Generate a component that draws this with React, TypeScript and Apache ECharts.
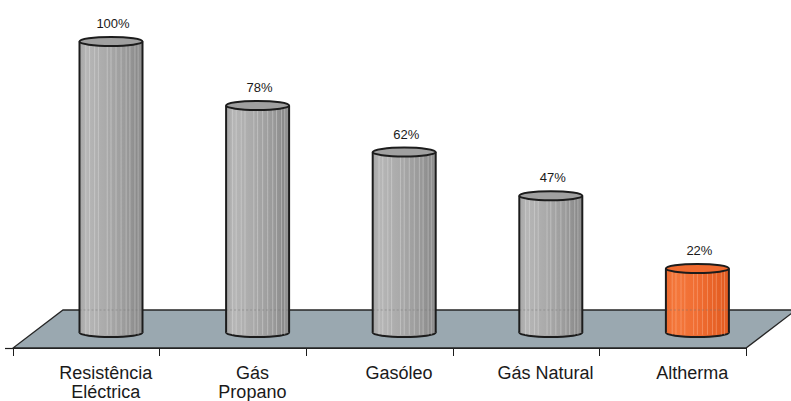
import React, { useEffect, useRef } from 'react';
import * as echarts from 'echarts';

// ---- data ----
const categories = ['Resistência\nEléctrica', 'Gás\nPropano', 'Gasóleo', 'Gás Natural', 'Altherma'];
const values = [100, 78, 62, 47, 22];
const highlightIndex = 4; // Altherma

// ---- styling constants ----
const DEPTH_X = 50;
const DEPTH_Y = 38;
const CYL_DX = 24.7;
const CYL_DY = -15.5;
const RX = 31.5;
const RY = 4.5;
const STROKE = '#1c1c1c';
const STRIPES = [0.1, 0.16, 0.24, 0.3, 0.44, 0.5, 0.58, 0.66, 0.74, 0.8, 0.88, 0.93];

const grayBody = () =>
  new echarts.graphic.LinearGradient(0, 0, 1, 0, [
    { offset: 0, color: '#a6a6a6' },
    { offset: 0.12, color: '#b6b6b6' },
    { offset: 0.45, color: '#a9a9a9' },
    { offset: 0.75, color: '#9a9a9a' },
    { offset: 0.92, color: '#8b8b8b' },
    { offset: 1, color: '#979797' },
  ]);
const orangeBody = () =>
  new echarts.graphic.LinearGradient(0, 0, 1, 0, [
    { offset: 0, color: '#ee6a2e' },
    { offset: 0.15, color: '#f4783c' },
    { offset: 0.5, color: '#f06d32' },
    { offset: 0.85, color: '#e55f24' },
    { offset: 1, color: '#e25c22' },
  ]);

export default function App() {
  const ref = useRef<HTMLDivElement>(null);

  useEffect(() => {
    document.body.style.margin = '0';
    const chart = echarts.init(ref.current!, undefined, { renderer: 'svg' });

    const option: any = {
      animation: false,
      backgroundColor: '#ffffff',
      grid: { left: 13, right: 45, top: 57, bottom: 52, containLabel: false },
      xAxis: {
        type: 'category',
        data: categories,
        boundaryGap: true,
        axisLine: { show: true, lineStyle: { color: STROKE, width: 1.2 } },
        axisTick: { show: true, length: 8, lineStyle: { color: STROKE, width: 1 } },
        axisLabel: {
          margin: 15,
          color: '#1a1a1a',
          fontSize: 18,
          lineHeight: 19,
          fontFamily: 'Liberation Sans, Arial, sans-serif',
          padding: [0, 0, 0, 39],
          interval: 0,
        },
        splitLine: { show: false },
      },
      yAxis: {
        type: 'value',
        min: 0,
        max: 100,
        show: true,
        axisLine: { show: false },
        axisLabel: { show: false },
        splitLine: { show: false },
        axisTick: { show: true, customValues: [0], length: 8, lineStyle: { color: STROKE, width: 1.2 } },
      },
      series: [
        {
          type: 'custom',
          z: 1,
          silent: true,
          data: [[0, 0]],
          encode: { x: 0, y: 1 },
          renderItem: (params: any) => {
            const cs = params.coordSys;
            const x0 = cs.x;
            const x1 = cs.x + cs.width;
            const y0 = cs.y + cs.height;
            return {
              type: 'polygon',
              shape: {
                points: [
                  [x0, y0],
                  [x1, y0],
                  [x1 + DEPTH_X, y0 - DEPTH_Y],
                  [x0 + DEPTH_X, y0 - DEPTH_Y],
                ],
              },
              style: { fill: '#9aa8b0', stroke: '#262626', lineWidth: 1.3 },
            };
          },
        },
        {
          type: 'custom',
          z: 5,
          silent: true,
          data: values.map((v, i) => [i, v]),
          encode: { x: 0, y: 1 },
          renderItem: (params: any, api: any) => {
            const i = api.value(0);
            const v = api.value(1);
            const base = api.coord([i, 0]);
            const top = api.coord([i, v]);
            const cs = params.coordSys;
            const floorBackY = cs.y + cs.height - DEPTH_Y;
            const cx = base[0] + CYL_DX;
            const yb = base[1] + CYL_DY;
            const yt = top[1] + CYL_DY;
            const orange = i === highlightIndex;
            const body = orange ? orangeBody() : grayBody();
            const topFill = orange ? '#ef6a2f' : '#a0a0a0';
            const stripeColor = orange ? 'rgba(255,200,170,0.45)' : 'rgba(235,235,235,0.45)';
            const stripes = STRIPES.map((f) => ({
              type: 'line',
              shape: { x1: cx - RX + f * 2 * RX, y1: yt, x2: cx - RX + f * 2 * RX, y2: yb + RY * 0.5 },
              style: { stroke: stripeColor, lineWidth: 0.8 },
            }));
            const children: any[] = [
              {
                type: 'ellipse',
                shape: { cx, cy: yb, rx: RX, ry: RY },
                style: { fill: body, stroke: STROKE, lineWidth: 2 },
              },
              {
                type: 'rect',
                shape: { x: cx - RX, y: yt, width: 2 * RX, height: yb - yt },
                style: { fill: body },
              },
              ...stripes,
            ];
            if (floorBackY > yt && floorBackY < yb) {
              children.push({
                type: 'line',
                shape: { x1: cx - RX, y1: floorBackY, x2: cx + RX, y2: floorBackY },
                style: { stroke: 'rgba(120,120,120,0.5)', lineWidth: 1, lineDash: [2, 2] },
              });
            }
            children.push(
              {
                type: 'line',
                shape: { x1: cx - RX, y1: yt, x2: cx - RX, y2: yb },
                style: { stroke: STROKE, lineWidth: 2 },
              },
              {
                type: 'line',
                shape: { x1: cx + RX, y1: yt, x2: cx + RX, y2: yb },
                style: { stroke: STROKE, lineWidth: 2 },
              },
              {
                type: 'ellipse',
                shape: { cx, cy: yt, rx: RX, ry: RY },
                style: { fill: topFill, stroke: STROKE, lineWidth: 2 },
              },
              {
                type: 'text',
                style: {
                  text: v + '%',
                  x: cx + 2,
                  y: yt - 18,
                  align: 'center',
                  verticalAlign: 'middle',
                  fontSize: 13,
                  fontFamily: 'Liberation Sans, Arial, sans-serif',
                  fill: '#1a1a1a',
                },
              }
            );
            return { type: 'group', children };
          },
        },
      ],
    };

    chart.setOption(option);
    return () => chart.dispose();
  }, []);

  return (
    <div
      ref={ref}
      style={{ width: 791, height: 401, position: 'absolute', left: 0, top: 0 }}
    />
  );
}
